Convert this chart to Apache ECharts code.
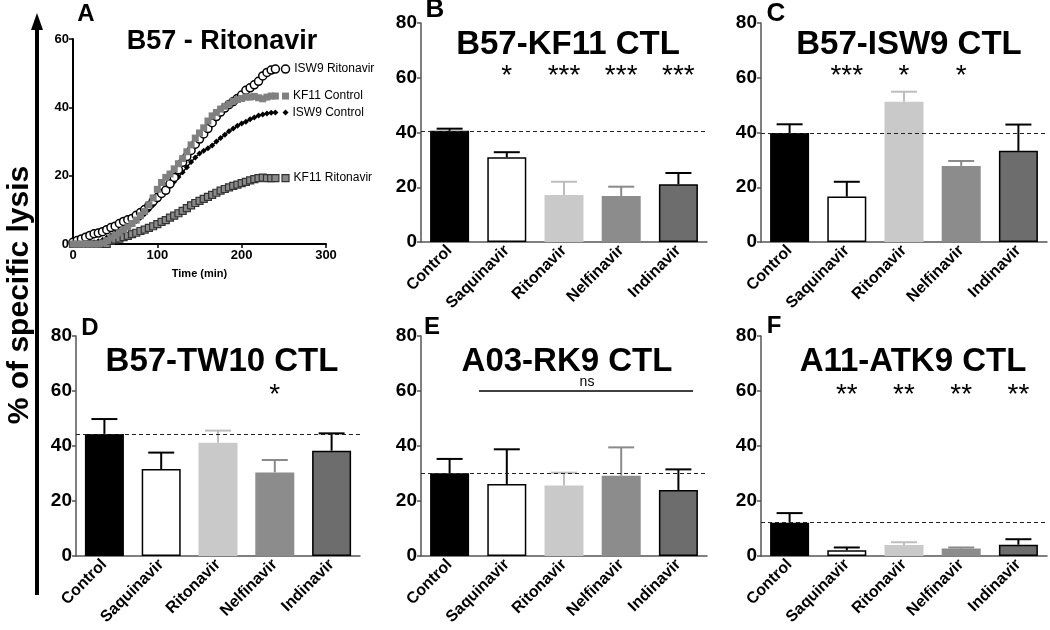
<!DOCTYPE html>
<html>
<head>
<meta charset="utf-8">
<script src="https://cdn.jsdelivr.net/npm/echarts@6/dist/echarts.min.js"></script>
<style>
  html, body { margin: 0; padding: 0; background: #fff; }
  #container { width: 1050px; height: 630px; }
</style>
</head>
<body>
<div id="container"></div>
<script>
var FONT = 'Liberation Sans, Arial, sans-serif';

// ---- panel A: kinetics (time in min, % lysis) ----
var timeMin = [0, 5, 10, 15, 20, 25, 30, 35, 40, 45, 50, 55, 60, 65, 70, 75, 80, 85, 90, 95,
  100, 105, 110, 115, 120, 125, 130, 135, 140, 145, 150, 155, 160, 165, 170, 175, 180, 185, 190, 195,
  200, 205, 210, 215, 220, 225, 230, 235, 240];
var isw9Rito = [0.5, 1, 1.5, 2, 2.5, 3, 3.2, 3.6, 4.2, 4.8, 5.2, 6, 6.6, 7.1, 7.5, 8.4, 9.2, 10.1, 11.2, 12.5,
  13.6, 14.8, 15.7, 17.6, 19.5, 21.7, 23.9, 25.6, 27.4, 29.2, 30.7, 32.2, 33.8, 35.5, 37.3, 38.6, 39.8, 40.8, 41.7, 42.6,
  43.6, 45, 45.7, 46.6, 47.6, 49.2, 50.2, 50.9, 51.2];
var kf11Ctrl = [0, 0, 0, 0, 0, 0, 0, 0.3, 1, 1.8, 2.5, 3.3, 4.2, 5, 6, 7, 8.3, 9.5, 11.5, 13.5,
  16, 18, 19.5, 20.5, 22, 23.5, 25, 27, 29, 31, 32.5, 34, 36, 37.5, 38.5, 39.5, 40.3, 41, 41.8, 42.3,
  42.6, 43, 43, 43.2, 42.8, 42.5, 43, 43.3, 43.3];
var isw9Ctrl = [0, 0, 0, 0, 0.2, 0.5, 0.8, 1.2, 1.8, 2.4, 3, 3.6, 4.3, 5, 5.8, 6.7, 7.7, 8.8, 10, 11.4,
  12.8, 14.2, 15.8, 17, 18.2, 19.6, 21, 22.5, 24, 25.3, 26.5, 27.3, 28, 28.8, 30, 31, 32, 33, 33.8, 34.6,
  35.3, 35.8, 36.5, 37, 37.6, 37.9, 38.2, 38.4, 38.5];
var kf11Rito = [0, 0, 0, 0, 0, 0, 0, 0, 0, 1, 1.3, 1.6, 2, 2.4, 2.9, 3.3, 3.8, 4.2, 4.7, 5.2,
  5.8, 6.5, 7, 7.7, 8.3, 9, 9.7, 10.5, 11.3, 12, 12.6, 13.2, 13.8, 14.4, 15, 15.6, 16.1, 16.6, 17, 17.4,
  17.8, 18.2, 18.6, 19, 19.3, 19.4, 19.3, 19.3, 19.3];
var keyTime = 252;

// ---- panels B-F: mean and SEM per drug ----
var drugs = ['Control', 'Saquinavir', 'Ritonavir', 'Nelfinavir', 'Indinavir'];
var kf11Mean = [40.6, 31, 17.2, 16.8, 21.1];
var kf11Err = [0.8, 1.8, 4.8, 3.4, 4.1];
var kf11Stars = ['', '*', '***', '***', '***'];
var isw9Mean = [39.8, 16.6, 51.2, 27.8, 33.3];
var isw9Err = [3.2, 5.4, 3.7, 1.8, 9.6];
var isw9Stars = ['', '***', '*', '*', ''];
var tw10Mean = [44.4, 31.6, 41.2, 30.4, 38.3];
var tw10Err = [5.4, 6, 4.4, 4.5, 6.3];
var tw10Stars = ['', '', '', '*', ''];
var rk9Mean = [30.1, 26.2, 25.6, 29.2, 24];
var rk9Err = [5.2, 12.6, 4.7, 10.3, 7.5];
var rk9Stars = ['', '', '', '', ''];
var atk9Mean = [12.1, 2.1, 4, 2.7, 4.1];
var atk9Err = [3.5, 1, 1, 0.4, 2];
var atk9Stars = ['', '**', '**', '**', '**'];

var barFill = ['#000000', '#ffffff', '#c9c9c9', '#8c8c8c', '#6d6d6d'];
var barBorder = ['#000000', '#000000', '#c9c9c9', '#8c8c8c', '#000000'];
var errColor = ['#000000', '#000000', '#bdbdbd', '#8a8a8a', '#000000'];

var dom = document.getElementById('container');
var myChart = echarts.init(dom, null, { renderer: 'canvas' });

// grid boxes in px: A, B, C on top row, D, E, F on bottom row
var grids = [
  { left: 73, top: 39, width: 253, height: 205 },
  { left: 421, top: 23, width: 286, height: 219 },
  { left: 761, top: 23, width: 286, height: 219 },
  { left: 76, top: 336, width: 284, height: 220 },
  { left: 421, top: 336, width: 286, height: 220 },
  { left: 761, top: 336, width: 286, height: 220 }
];

var panels = [
  { mean: kf11Mean, err: kf11Err, stars: kf11Stars, starY: 60.5 },
  { mean: isw9Mean, err: isw9Err, stars: isw9Stars, starY: 60.5 },
  { mean: tw10Mean, err: tw10Err, stars: tw10Stars, starY: 58.3 },
  { mean: rk9Mean, err: rk9Err, stars: rk9Stars, starY: 58.3 },
  { mean: atk9Mean, err: atk9Err, stars: atk9Stars, starY: 58.3 }
];

var xAxes = [{
  type: 'value', gridIndex: 0, min: 0, max: 300, interval: 100,
  name: 'Time (min)', nameLocation: 'middle', nameGap: 24,
  nameTextStyle: { fontFamily: FONT, fontWeight: 'bold', fontSize: 11, color: '#000' },
  axisLine: { lineStyle: { color: '#000', width: 2 } },
  axisTick: { length: 4, lineStyle: { color: '#000', width: 1.5 } },
  axisLabel: { fontFamily: FONT, fontWeight: 'bold', fontSize: 13, color: '#000', margin: 5 },
  splitLine: { show: false }
}];
var yAxes = [{
  type: 'value', gridIndex: 0, min: 0, max: 60, interval: 20,
  axisLine: { show: true, lineStyle: { color: '#000', width: 2 } },
  axisTick: { show: true, length: 4, lineStyle: { color: '#000', width: 1.5 } },
  axisLabel: { fontFamily: FONT, fontWeight: 'bold', fontSize: 13, color: '#000', margin: 4 },
  splitLine: { show: false }
}];

for (var g = 1; g <= 5; g++) {
  xAxes.push({
    type: 'category', gridIndex: g, data: drugs,
    axisLine: { lineStyle: { color: '#555', width: 1.5 } },
    axisTick: { alignWithLabel: true, length: 5, lineStyle: { color: '#555', width: 1.5 } },
    axisLabel: { interval: 0, rotate: 45, fontFamily: FONT, fontWeight: 'bold', fontSize: 16, color: '#000', margin: 6 }
  });
  yAxes.push({
    type: 'value', gridIndex: g, min: 0, max: 80, interval: 20,
    axisLine: { show: true, lineStyle: { color: '#555', width: 1.5 } },
    axisTick: { show: true, length: 4, lineStyle: { color: '#555', width: 1.5 } },
    axisLabel: { fontFamily: FONT, fontWeight: 'bold', fontSize: 19, color: '#000', margin: 4 },
    splitLine: { show: false }
  });
}

function pairs(ys) {
  return ys.map(function (y, i) { return [timeMin[i], y]; });
}

var series = [
  { type: 'line', xAxisIndex: 0, yAxisIndex: 0, data: pairs(kf11Rito), symbol: 'rect', symbolSize: 7,
    lineStyle: { width: 0 }, itemStyle: { color: '#8a8a8a', borderColor: '#333', borderWidth: 1.2 }, z: 3 },
  { type: 'line', xAxisIndex: 0, yAxisIndex: 0, data: pairs(isw9Ctrl), symbol: 'diamond', symbolSize: 6,
    lineStyle: { width: 1.5, color: '#000' }, itemStyle: { color: '#000' }, z: 3 },
  { type: 'line', xAxisIndex: 0, yAxisIndex: 0, data: pairs(isw9Rito), symbol: 'circle', symbolSize: 8,
    lineStyle: { width: 0 }, itemStyle: { color: '#fff', borderColor: '#000', borderWidth: 1.5 }, z: 4 },
  { type: 'line', xAxisIndex: 0, yAxisIndex: 0, data: pairs(kf11Ctrl), symbol: 'rect', symbolSize: 7,
    lineStyle: { width: 0 }, itemStyle: { color: '#808080' }, z: 5 },
  // end-of-curve keys
  { type: 'scatter', xAxisIndex: 0, yAxisIndex: 0, z: 6,
    data: [
      { value: [keyTime, isw9Rito[isw9Rito.length - 1]], name: 'ISW9 Ritonavir', symbol: 'circle', symbolSize: 8,
        itemStyle: { color: '#fff', borderColor: '#000', borderWidth: 1.5, opacity: 1 } },
      { value: [keyTime, kf11Ctrl[kf11Ctrl.length - 1]], name: 'KF11 Control', symbol: 'rect', symbolSize: 7,
        itemStyle: { color: '#808080', opacity: 1 } },
      { value: [keyTime, isw9Ctrl[isw9Ctrl.length - 1]], name: 'ISW9 Control', symbol: 'diamond', symbolSize: 6,
        itemStyle: { color: '#000', opacity: 1 } },
      { value: [keyTime, kf11Rito[kf11Rito.length - 1]], name: 'KF11 Ritonavir', symbol: 'rect', symbolSize: 7,
        itemStyle: { color: '#8a8a8a', borderColor: '#333', borderWidth: 1.2, opacity: 1 } }
    ],
    label: { show: true, position: 'right', distance: 4, formatter: '{b}', fontFamily: FONT, fontSize: 12, color: '#000' }
  }
];

panels.forEach(function (p, k) {
  var g = k + 1;
  series.push({
    type: 'bar', xAxisIndex: g, yAxisIndex: g, barWidth: 39, z: 2,
    data: p.mean.map(function (v, i) {
      return { value: v, itemStyle: { color: barFill[i], borderColor: barBorder[i], borderWidth: 1.5 } };
    }),
    markLine: {
      silent: true, symbol: 'none', label: { show: false },
      lineStyle: { type: [4, 3], color: '#222', width: 1 },
      data: [{ yAxis: p.mean[0] }]
    }
  });
  series.push({
    type: 'custom', xAxisIndex: g, yAxisIndex: g, z: 1,
    data: p.mean.map(function (v, i) { return [i, v, p.err[i]]; }),
    renderItem: function (params, api) {
      var i = api.value(0), m = api.value(1), e = api.value(2);
      var top = api.coord([i, m + e]);
      var base = api.coord([i, m]);
      var c = errColor[params.dataIndex];
      return {
        type: 'group',
        children: [
          { type: 'line', shape: { x1: top[0], y1: top[1], x2: base[0], y2: base[1] }, style: { stroke: c, lineWidth: 2 } },
          { type: 'line', shape: { x1: top[0] - 13, y1: top[1], x2: top[0] + 13, y2: top[1] }, style: { stroke: c, lineWidth: 2 } }
        ]
      };
    }
  });
  series.push({
    type: 'scatter', xAxisIndex: g, yAxisIndex: g, symbolSize: 0, silent: true, z: 5,
    itemStyle: { opacity: 1, color: '#000' },
    data: p.stars.map(function (s, i) { return { value: [i, p.starY], name: s }; })
      .filter(function (d) { return d.name !== ''; }),
    label: { show: true, position: 'inside', formatter: '{b}', fontFamily: FONT, fontSize: 28,
      color: '#000', opacity: 1, textBorderWidth: 0 }
  });
});

function txt(x, y, s, size, extra) {
  var o = { type: 'text', x: x, y: y, z: 10,
    style: { text: s, fontFamily: FONT, fontWeight: 'bold', fontSize: size, fill: '#000', align: 'center', verticalAlign: 'middle' } };
  if (extra) { for (var key in extra) { o[key] = extra[key]; } }
  return o;
}

var graphics = [
  // big shared y label with arrow
  { type: 'line', shape: { x1: 37, y1: 595, x2: 37, y2: 26 }, style: { stroke: '#000', lineWidth: 4 } },
  { type: 'polygon', shape: { points: [[37, 13], [31, 30], [43, 30]] }, style: { fill: '#000' } },
  txt(20, 295, '% of specific lysis', 30, { rotation: Math.PI / 2 }),
  // panel letters
  txt(86, 14, 'A', 24), txt(435, 10, 'B', 26), txt(776, 14, 'C', 26),
  txt(90, 328, 'D', 24), txt(432, 327, 'E', 24), txt(774, 326, 'F', 24),
  // panel titles
  txt(222, 42, 'B57 - Ritonavir', 27),
  txt(568, 45, 'B57-KF11 CTL', 33),
  txt(909, 45, 'B57-ISW9 CTL', 33),
  txt(222, 362, 'B57-TW10 CTL', 33),
  txt(567, 362, 'A03-RK9 CTL', 33),
  txt(913, 362, 'A11-ATK9 CTL', 33),
  // ns bracket in E
  { type: 'line', shape: { x1: 479, y1: 391, x2: 693, y2: 391 }, style: { stroke: '#000', lineWidth: 1.5 } },
  { type: 'text', x: 587, y: 382, style: { text: 'ns', fontFamily: FONT, fontSize: 14, fill: '#000', align: 'center', verticalAlign: 'middle' } }
];

var option = {
  backgroundColor: '#fff',
  animation: false,
  grid: grids,
  xAxis: xAxes,
  yAxis: yAxes,
  series: series,
  graphic: graphics
};

myChart.setOption(option);
window.addEventListener('resize', myChart.resize);
</script>
</body>
</html>
